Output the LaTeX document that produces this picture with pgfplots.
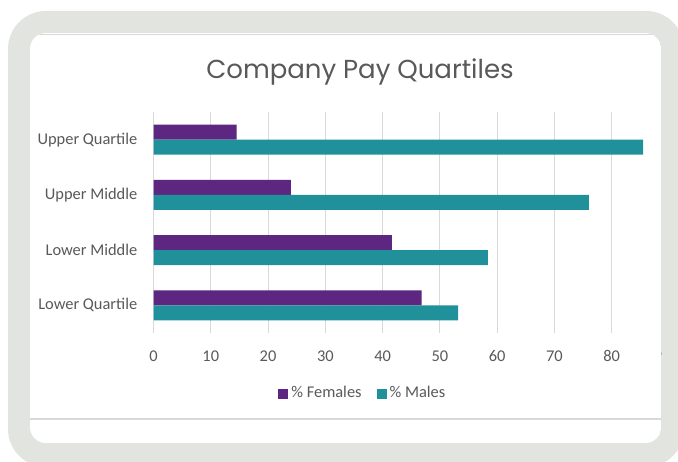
\documentclass[border=0pt]{standalone}
\usepackage{pgfplots}
\pgfplotsset{compat=1.18}
\usepackage{fontspec}
\setmainfont{Carlito}
\newfontfamily\titlefont{Poppins}
\definecolor{framec}{HTML}{E2E5DF}
\definecolor{fem}{HTML}{5D2680}
\definecolor{mal}{HTML}{20919B}
\definecolor{txt}{HTML}{595959}
\definecolor{grd}{HTML}{D9D9D9}
\begin{document}
\begin{tikzpicture}
\path[use as bounding box] (0pt,0pt) rectangle (339pt,230.5pt);
\fill[white] (0pt,0pt) rectangle (339pt,230.5pt);
\fill[framec, rounded corners=19pt] (4pt,-3pt) rectangle (342pt,225pt);
\begin{scope}
\clip[rounded corners=8pt] (15pt,9pt) rectangle (330.6pt,214pt);
\fill[white] (15pt,9pt) rectangle (330.6pt,214pt);
\draw[grd, line width=0.6pt] (0pt,213.4pt) -- (350pt,213.4pt);
\draw[grd, line width=0.6pt] (0pt,21pt) -- (350pt,21pt);
\node[txt, font=\titlefont\fontsize{13}{15}\selectfont] at (180pt,194.5pt) {Company Pay Quartiles};
\begin{axis}[
  at={(76.75pt,64pt)}, anchor=south west,
  scale only axis, width=257.75pt, height=110.5pt,
  xbar, bar width=7.5pt,
  xmin=0, xmax=90, ymin=-0.5, ymax=3.5,
  xtick={0,10,...,90}, ytick={0,1,2,3},
  yticklabels={Lower Quartile, Lower Middle, Upper Middle, Upper Quartile},
  xmajorgrids, grid style={grd, line width=0.5pt},
  axis line style={draw=none}, major tick length=0pt,
  tick label style={txt, font=\fontsize{8.2}{10}\selectfont},
  /pgf/number format/assume math mode=true,
  xticklabel style={yshift=-5.2pt}, yticklabel style={xshift=-4.6pt},
  legend style={at={(0.407,-0.275)}, anchor=center, draw=none, fill=none,
    legend columns=2, font=\fontsize{8.2}{10}\selectfont, text=txt,
    /tikz/every even column/.append style={column sep=6pt},
    nodes={inner sep=1.5pt}},
  legend image code/.code={\fill[#1] (0pt,-2.5pt) rectangle (5pt,2.5pt);},
]
\addplot[fill=fem, draw=none, bar shift=3.75pt] coordinates {(46.8,0) (41.6,1) (24.0,2) (14.5,3)};
\addplot[fill=mal, draw=none, bar shift=-3.75pt] coordinates {(53.2,0) (58.4,1) (76.0,2) (85.5,3)};
\legend{\% Females, \% Males}
\end{axis}
\end{scope}
\end{tikzpicture}
\end{document}
